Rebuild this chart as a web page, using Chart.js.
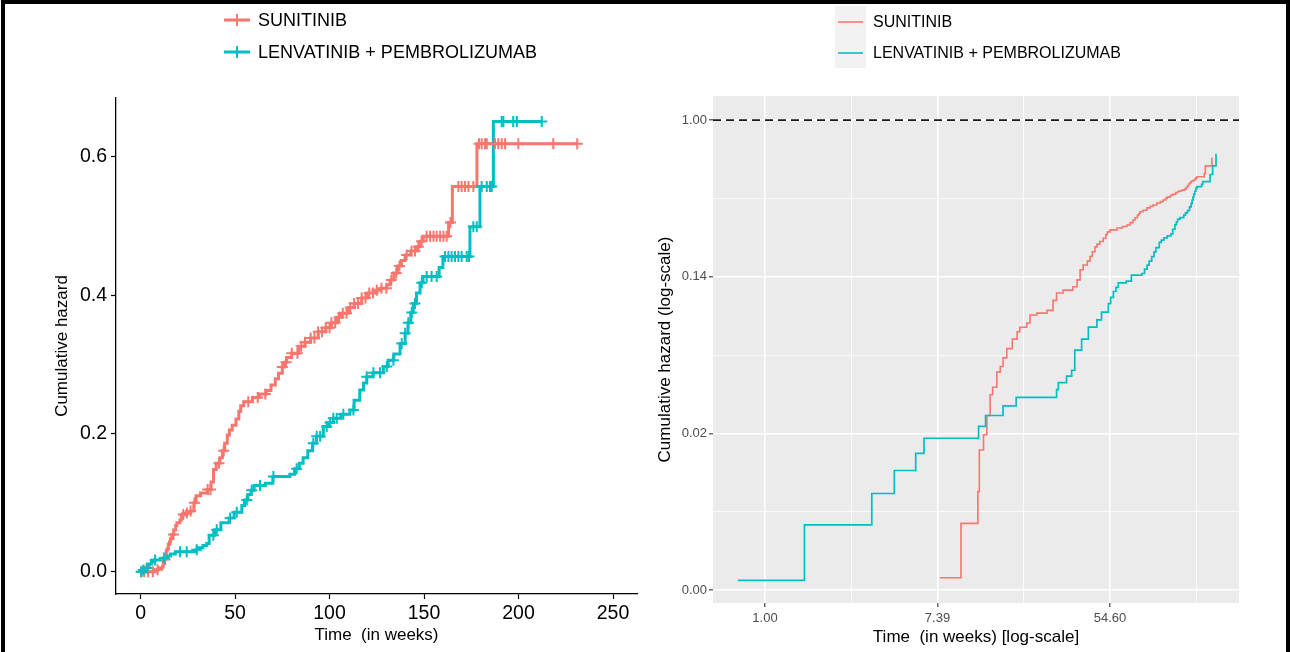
<!DOCTYPE html>
<html>
<head>
<meta charset="utf-8">
<script src="https://cdn.jsdelivr.net/npm/chart.js@4.4.1/dist/chart.umd.min.js"></script>
<style>
html,body{margin:0;padding:0;background:#fff;width:1290px;height:652px;overflow:hidden;font-family:"Liberation Sans",Arial,sans-serif;}
#frame{position:absolute;left:1px;top:0px;width:1281px;height:720px;border:4px solid #000;}
canvas{position:absolute;top:0;}
#c1{left:0;}
#c2{left:645px;}
.row{position:absolute;display:flex;align-items:center;height:24px;white-space:nowrap;color:#000;}
.row svg{display:block;}
#lkeybox{position:absolute;left:835px;top:6px;width:31px;height:62px;background:#F2F2F2;}
</style>
</head>
<body>
<div id="frame"></div>
<canvas id="c1" width="645" height="652"></canvas>
<canvas id="c2" width="645" height="652"></canvas>

<div class="row" style="left:223px;top:8px;">
  <svg width="28" height="14"><line x1="1" y1="7" x2="27" y2="7" stroke="#F8766D" stroke-width="3"/><line x1="14" y1="1" x2="14" y2="13" stroke="#F8766D" stroke-width="2"/></svg>
  <span style="margin-left:7px;font-size:18px;">SUNITINIB</span>
</div>
<div class="row" style="left:223px;top:40px;">
  <svg width="28" height="14"><line x1="1" y1="7" x2="27" y2="7" stroke="#00BFC4" stroke-width="3"/><line x1="14" y1="1" x2="14" y2="13" stroke="#00BFC4" stroke-width="2"/></svg>
  <span style="margin-left:7px;font-size:18px;">LENVATINIB + PEMBROLIZUMAB</span>
</div>

<div id="lkeybox"></div>
<div class="row" style="left:838px;top:10px;">
  <svg width="25" height="10"><line x1="0" y1="5" x2="25" y2="5" stroke="#F8766D" stroke-width="1.6"/></svg>
  <span style="margin-left:10px;font-size:16px;">SUNITINIB</span>
</div>
<div class="row" style="left:838px;top:41px;">
  <svg width="25" height="10"><line x1="0" y1="5" x2="25" y2="5" stroke="#00BFC4" stroke-width="1.6"/></svg>
  <span style="margin-left:10px;font-size:16px;">LENVATINIB + PEMBROLIZUMAB</span>
</div>

<script>
// ---------------- DATA ----------------
// Event times (weeks) and cumulative hazard after each event
const sunTime = [7.6, 9.7, 11.8, 12.0, 12.6, 13.1, 13.6, 14.0, 14.7, 15.3, 15.8, 16.5, 17.6, 18.6, 19.2, 20.8, 21.6, 23.4, 26.3, 28.2, 29.4, 31.7, 35.5, 37.3, 38.6, 40.0, 42.0, 43.3, 44.5, 45.9, 47.0, 48.5, 50.5, 52.0, 53.0, 54.6, 59.2, 63.0, 66.5, 69.0, 71.3, 73.0, 75.0, 76.2, 77.3, 80.0, 83.7, 87.0, 90.0, 94.0, 98.0, 101.0, 104.0, 106.0, 110.0, 113.0, 117.0, 120.0, 124.0, 127.0, 130.3, 132.0, 134.0, 136.0, 138.0, 140.0, 143.0, 146.0, 148.0, 149.6, 163.0, 165.0, 178.0];
const sunHaz  = [0.0029, 0.0058, 0.0087, 0.0148, 0.018, 0.023, 0.030, 0.033, 0.040, 0.043, 0.048, 0.054, 0.061, 0.067, 0.071, 0.075, 0.083, 0.085, 0.088, 0.100, 0.110, 0.114, 0.119, 0.130, 0.148, 0.157, 0.165, 0.175, 0.186, 0.198, 0.205, 0.212, 0.221, 0.232, 0.240, 0.246, 0.252, 0.257, 0.262, 0.270, 0.279, 0.287, 0.296, 0.303, 0.310, 0.316, 0.326, 0.332, 0.338, 0.347, 0.353, 0.360, 0.368, 0.374, 0.382, 0.388, 0.396, 0.403, 0.407, 0.410, 0.415, 0.422, 0.432, 0.442, 0.450, 0.458, 0.464, 0.470, 0.478, 0.485, 0.505, 0.557, 0.619];
const lenTime = [0.73, 1.58, 3.45, 4.48, 5.74, 6.32, 11.9, 12.9, 15.8, 18.4, 29.4, 30, 33, 35, 36.3, 39.3, 42.5, 46.9, 49.5, 53.6, 55.0, 56.8, 58.5, 60.1, 66, 70, 79, 81.5, 84, 86, 88.5, 91, 93, 96.7, 99, 102, 106, 110.8, 113, 116, 118, 119.7, 123, 128.5, 131, 134, 137.3, 140, 141.5, 143, 144.3, 146, 147.9, 149.5, 158, 160, 174.3, 179.6, 186.7];
const lenHaz  = [0.0028, 0.0057, 0.0085, 0.0114, 0.0142, 0.0172, 0.020, 0.023, 0.026, 0.029, 0.032, 0.035, 0.038, 0.041, 0.053, 0.061, 0.071, 0.078, 0.086, 0.096, 0.104, 0.112, 0.118, 0.125, 0.128, 0.138, 0.141, 0.149, 0.157, 0.165, 0.175, 0.186, 0.196, 0.210, 0.216, 0.222, 0.228, 0.234, 0.248, 0.263, 0.273, 0.282, 0.288, 0.297, 0.306, 0.315, 0.330, 0.345, 0.360, 0.375, 0.388, 0.403, 0.418, 0.427, 0.440, 0.456, 0.499, 0.557, 0.651];
// Censoring times (weeks)
const sunCensor = [0.5, 2, 4, 6.5, 9, 13, 17.4, 22.6, 24.5, 26.5, 28.5, 35.5, 37, 41.5, 44, 57, 62, 66, 75, 77, 80, 83, 85, 87, 90, 92, 94, 96, 98, 100, 101, 103, 105, 107, 109, 111, 113, 115, 117, 119, 121, 123, 125, 127.5, 130.1, 132.7, 135.3, 137, 140.8, 143.4, 145.2, 147, 148.7, 151.4, 153.2, 155, 156.7, 158.5, 160.3, 162, 164, 168.2, 169.9, 171.7, 173.5, 176.1, 179.1, 180.5, 182.3, 183.2, 187.6, 189.3, 191.1, 192.9, 199.9, 218.4, 231.1];
const lenCensor = [0.3, 1.5, 3.3, 7.7, 12.5, 20.9, 24.4, 29.7, 38.5, 40.3, 47.4, 50.9, 56.2, 58.8, 63.2, 70.3, 82.6, 91.4, 93.2, 95, 98.5, 100.3, 102, 103.8, 107.3, 112.6, 119.7, 123.2, 126.7, 130.3, 133.8, 138.2, 140, 141.7, 143.5, 145.2, 148.8, 151.4, 154, 156.7, 161.1, 162.9, 164.6, 166.4, 168.2, 169.9, 172.6, 173.8, 176.1, 177.9, 180.5, 183.2, 184.9, 185.8, 191.1, 192, 197.2, 199.1, 212.3];
const seriesNames = ['SUNITINIB', 'LENVATINIB + PEMBROLIZUMAB'];
const leftXTicks = [0, 50, 100, 150, 200, 250];
const leftYTicks = [0, 0.2, 0.4, 0.6];
const rightXTicks = [0, 1, 2, 3, 4, 5];        // log(time)
const rightYTicks = [-6, -5, -4, -3, -2, -1, 0]; // log(cumulative hazard)
const rightMajorX = [0, 2, 4];
const rightMajorY = [-6, -4, -2, 0];
const refLogHaz = 0;

// ---------------- HELPERS ----------------
const RED = '#F8766D', TEAL = '#00BFC4';
const FONT = '"Liberation Sans", Arial, sans-serif';
function hazAt(times, haz, t) {
  let h = 0;
  for (let i = 0; i < times.length; i++) { if (times[i] <= t) h = haz[i]; else break; }
  return h;
}
function leftLine(times, haz, cens) {
  const pts = [{x: 0, y: 0}];
  times.forEach((t, i) => pts.push({x: t, y: haz[i]}));
  const last = Math.max(...cens);
  if (last > times[times.length - 1]) pts.push({x: last, y: haz[haz.length - 1]});
  return pts;
}
function censorPts(times, haz, cens) {
  return cens.map(t => ({x: t, y: hazAt(times, haz, t)}));
}
function logLine(times, haz) {
  return times.map((t, i) => ({x: Math.log(t), y: Math.log(haz[i])}));
}

// ---------------- LEFT CHART ----------------
const LX = {min: -13, max: 262.7}, LY = {min: -0.032, max: 0.685};
new Chart(document.getElementById('c1'), {
  type: 'line',
  data: { datasets: [
    {label: seriesNames[0], data: leftLine(sunTime, sunHaz, sunCensor), borderColor: RED, borderWidth: 3, pointRadius: 0, stepped: 'before', fill: false, order: 4},
    {label: seriesNames[1], data: leftLine(lenTime, lenHaz, lenCensor), borderColor: TEAL, borderWidth: 3, pointRadius: 0, stepped: 'before', fill: false, order: 3},
    {label: seriesNames[0] + ' censored', data: censorPts(sunTime, sunHaz, sunCensor), showLine: false, pointStyle: 'cross', pointRadius: 5.5, pointBorderWidth: 2, pointBorderColor: RED, borderColor: RED, order: 2},
    {label: seriesNames[1] + ' censored', data: censorPts(lenTime, lenHaz, lenCensor), showLine: false, pointStyle: 'cross', pointRadius: 5.5, pointBorderWidth: 2, pointBorderColor: TEAL, borderColor: TEAL, order: 1}
  ]},
  options: {
    responsive: false, animation: false, devicePixelRatio: 1,
    layout: {padding: {left: 0, right: 8, top: 98, bottom: 0}},
    plugins: {legend: {display: false}, tooltip: {enabled: false}},
    scales: {
      x: {type: 'linear', min: LX.min, max: LX.max,
        afterBuildTicks: s => { s.ticks = leftXTicks.map(v => ({value: v})); },
        afterFit: s => { s.height = 58; },
        grid: {display: true, drawOnChartArea: false, drawTicks: true, tickLength: 5, tickColor: '#000', tickWidth: 1.2},
        border: {display: true, color: '#000', width: 1.3},
        ticks: {color: '#000', font: {family: FONT, size: 19.5}, padding: 3, maxRotation: 0, autoSkip: false},
        title: {display: true, text: 'Time  (in weeks)', color: '#000', font: {family: FONT, size: 17}, padding: {top: 0, bottom: 6.8}}
      },
      y: {type: 'linear', min: LY.min, max: LY.max,
        afterBuildTicks: s => { s.ticks = leftYTicks.map(v => ({value: v})); },
        afterFit: s => { s.width = 116; },
        grid: {display: true, drawOnChartArea: false, drawTicks: true, tickLength: 5, tickColor: '#000', tickWidth: 1.2},
        border: {display: true, color: '#000', width: 1.3},
        ticks: {color: '#000', font: {family: FONT, size: 19.5}, padding: 4, autoSkip: false, callback: v => Number(v).toFixed(1)},
        title: {display: true, text: 'Cumulative hazard', color: '#000', font: {family: FONT, size: 17}, padding: {top: 51.8, bottom: 0}}
      }
    }
  }
});

// ---------------- RIGHT CHART ----------------
const RX = {min: -0.603, max: 5.496}, RY = {min: -6.166, max: 0.307};
const panelBg = {id: 'panelBg', beforeDraw(chart) {
  const {ctx, chartArea: a} = chart;
  ctx.save(); ctx.fillStyle = '#EBEBEB'; ctx.fillRect(a.left, a.top, a.right - a.left, a.bottom - a.top); ctx.restore();
}};
const isMajX = v => rightMajorX.includes(v), isMajY = v => rightMajorY.includes(v);
new Chart(document.getElementById('c2'), {
  type: 'line',
  data: { datasets: [
    {label: seriesNames[0], data: logLine(sunTime, sunHaz), borderColor: RED, borderWidth: 1.6, pointRadius: 0, stepped: 'before', fill: false, order: 3},
    {label: seriesNames[1], data: logLine(lenTime, lenHaz), borderColor: TEAL, borderWidth: 1.7, pointRadius: 0, stepped: 'before', fill: false, order: 2},
    {label: 'reference', data: [{x: RX.min, y: refLogHaz}, {x: RX.max, y: refLogHaz}], borderColor: '#1A1A1A', borderWidth: 1.8, borderDash: [8, 5], pointRadius: 0, fill: false, order: 1}
  ]},
  options: {
    responsive: false, animation: false, devicePixelRatio: 1,
    layout: {padding: {left: 0, right: 51, top: 96, bottom: 0}},
    plugins: {legend: {display: false}, tooltip: {enabled: false}},
    scales: {
      x: {type: 'linear', min: RX.min, max: RX.max,
        afterBuildTicks: s => { s.ticks = rightXTicks.map(v => ({value: v})); },
        afterFit: s => { s.height = 49; },
        grid: {display: true, drawOnChartArea: true, drawTicks: true, tickLength: 4,
          color: '#FFFFFF', lineWidth: c => (c.tick && isMajX(c.tick.value)) ? 1.6 : 0.8,
          tickColor: c => (c.tick && isMajX(c.tick.value)) ? '#333333' : 'rgba(0,0,0,0)', tickWidth: 1.1},
        border: {display: false},
        ticks: {color: '#4D4D4D', font: {family: FONT, size: 13}, padding: 4, maxRotation: 0, autoSkip: false,
          callback: v => isMajX(v) ? Math.exp(v).toFixed(2) : ''},
        title: {display: true, text: 'Time  (in weeks) [log-scale]', color: '#000', font: {family: FONT, size: 17}, padding: {top: 0, bottom: 4.8}}
      },
      y: {type: 'linear', min: RY.min, max: RY.max,
        afterBuildTicks: s => { s.ticks = rightYTicks.map(v => ({value: v})); },
        afterFit: s => { s.width = 68; },
        grid: {display: true, drawOnChartArea: true, drawTicks: true, tickLength: 4,
          color: '#FFFFFF', lineWidth: c => (c.tick && isMajY(c.tick.value)) ? 1.6 : 0.8,
          tickColor: c => (c.tick && isMajY(c.tick.value)) ? '#333333' : 'rgba(0,0,0,0)', tickWidth: 1.1},
        border: {display: false},
        ticks: {color: '#4D4D4D', font: {family: FONT, size: 13}, padding: 2, autoSkip: false,
          callback: v => isMajY(v) ? Math.exp(v).toFixed(2) : ''},
        title: {display: true, text: 'Cumulative hazard (log-scale)', color: '#000', font: {family: FONT, size: 17}, padding: {top: 9.8, bottom: 0}}
      }
    }
  },
  plugins: [panelBg]
});
</script>
</body>
</html>
